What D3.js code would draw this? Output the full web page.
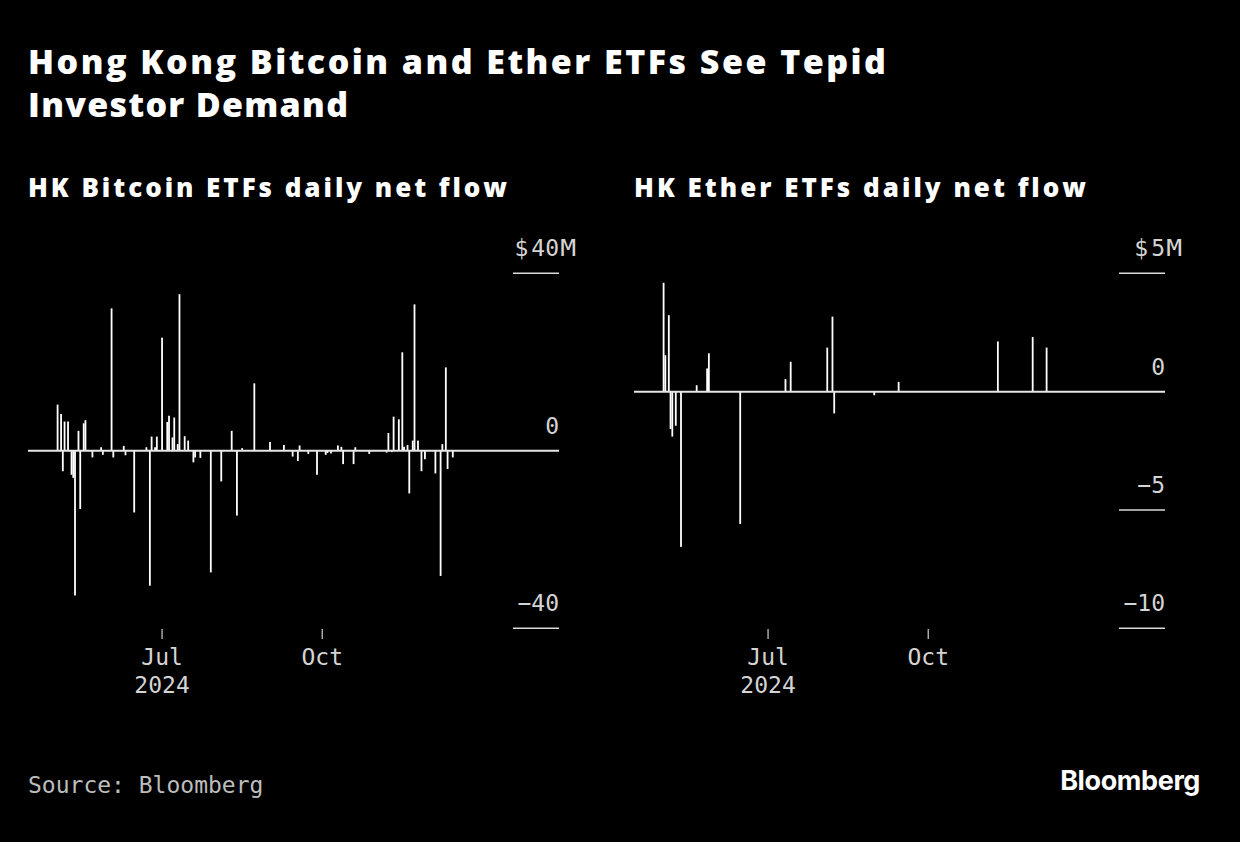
<!DOCTYPE html>
<html>
<head>
<meta charset="utf-8">
<script src="https://cdn.jsdelivr.net/npm/d3@7"></script>
<style>
  html, body { margin: 0; padding: 0; background: #000; }
  svg { display: block; }
</style>
</head>
<body>
<svg id="chart" width="1240" height="842"></svg>
<script>
// ---------------- DATA ----------------
const btcDates = [
  "2024-05-02","2024-05-04","2024-05-05","2024-05-06","2024-05-08","2024-05-10","2024-05-11","2024-05-12",
  "2024-05-14","2024-05-15","2024-05-17","2024-05-18","2024-05-22","2024-05-27","2024-05-28","2024-06-02",
  "2024-06-03","2024-06-09","2024-06-10","2024-06-15","2024-06-22","2024-06-24","2024-06-25","2024-06-27",
  "2024-06-28","2024-07-01","2024-07-04","2024-07-05","2024-07-07","2024-07-08","2024-07-10","2024-07-11",
  "2024-07-14","2024-07-16","2024-07-19","2024-07-20","2024-07-23","2024-07-29","2024-08-04","2024-08-10",
  "2024-08-13","2024-08-16","2024-08-23","2024-09-01","2024-09-09","2024-09-14","2024-09-17","2024-09-18",
  "2024-09-23","2024-09-28","2024-10-03","2024-10-04","2024-10-06","2024-10-10","2024-10-12","2024-10-13",
  "2024-10-19","2024-10-20","2024-10-28","2024-11-07","2024-11-08","2024-11-10","2024-11-11","2024-11-14",
  "2024-11-16","2024-11-17","2024-11-19","2024-11-20","2024-11-22","2024-11-23","2024-11-25","2024-11-27",
  "2024-11-29","2024-12-05","2024-12-08","2024-12-09","2024-12-11","2024-12-12","2024-12-15"
];
const btcFlows = [
  10.4, 8.3, -4.6, 6.6, 6.6, -5.4, -6.1, -32.6,
  4.5, -13.1, 6.2, 6.9, -1.5, 0.8, -0.9, 32.1,
  -1.5, 1.1, -1.0, -13.9, 0.8, -30.4, 3.2, 0.8,
  3.2, 25.5, 6.5, 7.9, 3.0, 7.5, 1.5, 35.3,
  3.3, 2.3, -2.6, -1.5, -1.6, -27.4, -6.9, 4.5,
  -14.6, 0.6, 15.2, 2.0, 1.3, -1.3, -2.3, 1.2,
  -0.7, -5.4, -0.9, -0.5, -0.6, 1.2, 0.9, -3.0,
  -3.0, 0.8, -0.7, -0.4, 4.0, -0.3, 7.7, 7.1,
  22.2, 0.9, 1.3, -9.6, 2.3, 33.0, 2.3, -4.6,
  -1.9, -5.1, -28.2, 1.5, 18.8, -4.1, -1.5
];

const ethDates = [
  "2024-05-02","2024-05-03","2024-05-05","2024-05-06","2024-05-07","2024-05-09","2024-05-12","2024-05-21",
  "2024-05-27","2024-05-28","2024-06-15","2024-07-11","2024-07-14","2024-08-04","2024-08-07","2024-08-08",
  "2024-08-31","2024-09-14","2024-11-10","2024-11-30","2024-12-08"
];
const ethFlows = [
  4.6, 1.54, 3.23, -1.58, -1.9, -1.44, -6.56, 0.27,
  0.98, 1.62, -5.59, 0.53, 1.26, 1.86, 3.17, -0.92,
  -0.15, 0.41, 2.12, 2.31, 1.86
];

const xDomainDates = ["2024-04-15", "2025-02-14"];
const xTickDates = ["2024-07-01", "2024-10-01"];
const xTickLabels = [["Jul", "2024"], ["Oct"]];

const btcYDomain = [-40, 40];
const btcYTicks = [40, 0, -40];
const ethYDomain = [-10, 5];
const ethYTicks = [5, 0, -5, -10];

const titleLines = ["Hong Kong Bitcoin and Ether ETFs See Tepid", "Investor Demand"];
const panelTitles = ["HK Bitcoin ETFs daily net flow", "HK Ether ETFs daily net flow"];
const sourceText = "Source: Bloomberg";
const logoText = "Bloomberg";

// ---------------- DRAW ----------------
const parse = d3.utcParse("%Y-%m-%d");
const svg = d3.select("#chart");
svg.append("rect").attr("width", 1240).attr("height", 842).attr("fill", "#000");

const monoFont = "'DejaVu Sans Mono', monospace";
const boldFont = "'Open Sans', 'Noto Sans', sans-serif";

// fit letter-spacing so a text spans a target width
function fitSpacing(sel, target) {
  sel.each(function() {
    const t = d3.select(this);
    const n = t.text().length;
    t.attr("letter-spacing", 0);
    const w = this.getComputedTextLength();
    const ls = (target - w) / Math.max(1, n - 1);
    t.attr("letter-spacing", Math.max(-1, Math.min(3, ls)));
  });
}

// Title
const titleWidths = [858, 320];
svg.append("g").selectAll("text").data(titleLines).join("text")
  .attr("x", 28)
  .attr("y", (d, i) => 74 + i * 43)
  .attr("fill", "#fff")
  .attr("font-family", boldFont)
  .attr("font-weight", 800)
  .attr("font-size", 34)
  .text(d => d)
  .each(function(d, i) { fitSpacing(d3.select(this), titleWidths[i]); });

function drawPanel(opts) {
  const g = svg.append("g");
  const x = d3.scaleUtc()
    .domain(xDomainDates.map(parse))
    .range([opts.left, opts.left + 531]);
  const y = d3.scaleLinear()
    .domain(opts.yDomain)
    .range([628.3, 273.3]);

  // Panel title
  g.append("text")
    .attr("x", opts.left)
    .attr("y", 197)
    .attr("fill", "#fff")
    .attr("font-family", boldFont)
    .attr("font-weight", 800)
    .attr("font-size", 26)
    .text(opts.title)
    .call(fitSpacing, opts.titleWidth);

  // Y ticks (short lines on right side) and labels
  const right = opts.left + 531;
  const ticksNonZero = opts.yTicks.filter(t => t !== 0);
  g.append("g").selectAll("line").data(ticksNonZero).join("line")
    .attr("x1", right - 46).attr("x2", right)
    .attr("y1", d => y(d)).attr("y2", d => y(d))
    .attr("stroke", "#d9d9d9").attr("stroke-width", 1.6);

  const lab = g.append("g").selectAll("g").data(opts.yTicks).join("g")
    .attr("transform", d => `translate(${right},${y(d) - 17})`);
  lab.append("text")
    .attr("text-anchor", "end")
    .attr("fill", "#d4d4d4")
    .attr("font-family", monoFont)
    .attr("font-size", 23)
    .text(d => d3.format("d")(d));
  lab.filter((d, i) => i === 0).append("text")
    .attr("x", 1)
    .attr("fill", "#d4d4d4")
    .attr("font-family", monoFont)
    .attr("font-size", 23)
    .attr("transform", "scale(1.15,1)")
    .text("M");
  lab.filter((d, i) => i === 0).append("text")
    .attr("x", d => -String(d).length * 13.85 - 3)
    .attr("text-anchor", "end")
    .attr("fill", "#d4d4d4")
    .attr("font-family", monoFont)
    .attr("font-size", 23)
    .text("$");

  // X ticks
  const xt = g.append("g").selectAll("g").data(xTickDates).join("g")
    .attr("transform", d => `translate(${x(parse(d))},0)`);
  xt.append("line")
    .attr("y1", 629).attr("y2", 639)
    .attr("stroke", "#cfcfcf").attr("stroke-width", 1.2);
  xt.each(function(d, i) {
    d3.select(this).selectAll("text").data(xTickLabels[i]).join("text")
      .attr("y", (t, j) => 665 + j * 28)
      .attr("text-anchor", "middle")
      .attr("fill", "#d4d4d4")
      .attr("font-family", monoFont)
      .attr("font-size", 23)
      .text(t => t);
  });

  // Bars
  const data = opts.dates.map((d, i) => ({ date: parse(d), v: opts.values[i] }));
  g.append("g").selectAll("rect").data(data).join("rect")
    .attr("x", d => x(d.date) - 0.9)
    .attr("width", 1.8)
    .attr("y", d => Math.min(y(d.v), y(0)))
    .attr("height", d => Math.abs(y(d.v) - y(0)))
    .attr("fill", "#fff");

  // Zero line
  g.append("line")
    .attr("x1", opts.left).attr("x2", right)
    .attr("y1", y(0)).attr("y2", y(0))
    .attr("stroke", "#e6e6e6").attr("stroke-width", 2);
}

drawPanel({ left: 28, title: panelTitles[0], titleWidth: 479, dates: btcDates, values: btcFlows, yDomain: btcYDomain, yTicks: btcYTicks });
drawPanel({ left: 634, title: panelTitles[1], titleWidth: 452, dates: ethDates, values: ethFlows, yDomain: ethYDomain, yTicks: ethYTicks });

// Footer
svg.append("text")
  .attr("x", 28).attr("y", 793)
  .attr("fill", "#bdbdbd")
  .attr("font-family", monoFont)
  .attr("font-size", 23)
  .text(sourceText);

svg.append("text")
  .attr("x", 1200).attr("y", 790)
  .attr("text-anchor", "end")
  .attr("fill", "#fff")
  .attr("font-family", "Inter, 'Open Sans', sans-serif")
  .attr("font-weight", 700)
  .attr("font-size", 27)
  .attr("letter-spacing", -0.4)
  .text(logoText);
</script>
</body>
</html>
